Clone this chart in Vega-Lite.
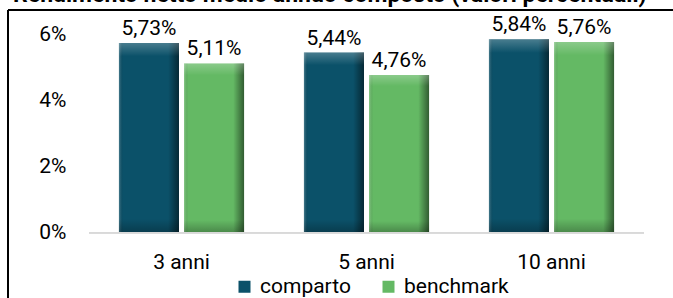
{
  "$schema": "https://vega.github.io/schema/vega-lite/v6.json",
  "width": 665,
  "height": 288,
  "autosize": "none",
  "padding": {"left": 8, "top": 10, "right": 0, "bottom": 0},
  "title": {
    "text": "Rendimento netto medio annuo composto (valori percentuali)",
    "anchor": "start",
    "frame": "group",
    "dx": 5,
    "offset": -16,
    "baseline": "alphabetic",
    "font": "Roboto",
    "fontSize": 23,
    "fontWeight": "bold",
    "color": "black"
  },
  "config": {
    "locale": {"number": {"decimal": ",", "thousands": ".", "grouping": [3], "currency": ["€", ""]}},
    "view": {"stroke": null},
    "font": "Roboto"
  },
  "data": {
    "values": [
      {"periodo": "3 anni", "serie": "comparto", "valore": 0.0573},
      {"periodo": "3 anni", "serie": "benchmark", "valore": 0.0511},
      {"periodo": "5 anni", "serie": "comparto", "valore": 0.0544},
      {"periodo": "5 anni", "serie": "benchmark", "valore": 0.0476},
      {"periodo": "10 anni", "serie": "comparto", "valore": 0.0584},
      {"periodo": "10 anni", "serie": "benchmark", "valore": 0.0576}
    ]
  },
  "resolve": {"scale": {"x": "independent"}, "axis": {"x": "independent"}},
  "layer": [
    {
      "layer": [
        {
          "mark": {"type": "bar", "color": "#d9d9d9"},
          "encoding": {
            "x": {
              "field": "periodo", "type": "nominal", "sort": ["3 anni", "5 anni", "10 anni"],
              "scale": {"range": [81, 636], "paddingInner": 0, "paddingOuter": 0},
              "axis": {"title": null, "ticks": false, "domain": false, "grid": false, "labelPadding": 0, "offset": -47, "labelBaseline": "top", "labelFontSize": 21, "labelColor": "black", "labelAngle": 0, "labelFont": "Roboto"}
            },
            "y": {
              "datum": 0, "type": "quantitative",
              "scale": {"domain": [-0.02, 0.0673], "nice": false, "zero": false},
              "axis": {"title": null, "values": [0, 0.02, 0.04, 0.06], "format": ".0%", "ticks": false, "domain": false, "grid": false, "labelPadding": 0, "offset": -58, "labelFontSize": 21, "labelColor": "black", "labelFont": "Roboto"}
            },
            "y2": {"datum": -0.0005}
          }
        },
        {
          "mark": {"type": "bar"},
          "encoding": {
            "x": {"field": "periodo", "type": "nominal", "sort": ["3 anni", "5 anni", "10 anni"]},
            "xOffset": {"field": "serie", "type": "nominal", "sort": ["comparto", "benchmark"], "scale": {"paddingInner": 0.077, "paddingOuter": 0.46}},
            "y": {"field": "valore", "type": "quantitative"},
            "y2": {"datum": 0},
            "color": {
              "field": "serie", "type": "nominal",
              "scale": {"domain": ["comparto", "benchmark"], "range": ["#0b5169", "#64b964"]},
              "legend": {"title": null, "orient": "none", "legendX": 226, "legendY": 266, "direction": "horizontal", "symbolType": "square", "symbolSize": 144, "symbolStrokeWidth": 0, "labelFontSize": 21, "labelColor": "black", "labelFont": "Roboto", "labelOffset": 5, "columnPadding": 27, "symbolOpacity": 1}
            }
          }
        },
        {
          "mark": {
            "type": "bar",
            "fill": {"gradient": "linear", "x1": 0, "x2": 1, "y1": 0, "y2": 0,
              "stops": [
                {"offset": 0, "color": "rgba(255,255,255,0.25)"},
                {"offset": 0.07, "color": "rgba(0,0,0,0)"},
                {"offset": 0.82, "color": "rgba(0,0,0,0)"},
                {"offset": 1, "color": "rgba(0,0,0,0.5)"}
              ]}
          },
          "encoding": {
            "x": {"field": "periodo", "type": "nominal", "sort": ["3 anni", "5 anni", "10 anni"]},
            "xOffset": {"field": "serie", "type": "nominal", "sort": ["comparto", "benchmark"]},
            "y": {"field": "valore", "type": "quantitative"},
            "y2": {"datum": 0}
          }
        },
        {
          "mark": {
            "type": "bar",
            "fill": {"gradient": "linear", "x1": 0, "x2": 0, "y1": 0, "y2": 1,
              "stops": [
                {"offset": 0, "color": "rgba(255,255,255,0.25)"},
                {"offset": 0.07, "color": "rgba(255,255,255,0)"},
                {"offset": 0.93, "color": "rgba(0,0,0,0)"},
                {"offset": 1, "color": "rgba(0,0,0,0.25)"}
              ]}
          },
          "encoding": {
            "x": {"field": "periodo", "type": "nominal", "sort": ["3 anni", "5 anni", "10 anni"]},
            "xOffset": {"field": "serie", "type": "nominal", "sort": ["comparto", "benchmark"]},
            "y": {"field": "valore", "type": "quantitative"},
            "y2": {"datum": 0}
          }
        },
        {
          "mark": {"type": "text", "dy": -8, "baseline": "alphabetic", "fontSize": 21, "color": "black", "font": "Roboto"},
          "encoding": {
            "x": {"field": "periodo", "type": "nominal", "sort": ["3 anni", "5 anni", "10 anni"]},
            "xOffset": {"field": "serie", "type": "nominal", "sort": ["comparto", "benchmark"]},
            "y": {"field": "valore", "type": "quantitative"},
            "text": {"field": "valore", "type": "quantitative", "format": ".2%"}
          }
        },
        {
          "mark": {"type": "rule", "color": "black", "strokeWidth": 2},
          "encoding": {"y": {"datum": 0.0673}}
        }
      ]
    },
    {
      "mark": {"type": "rule", "color": "black", "strokeWidth": 2},
      "encoding": {
        "x": {"datum": 0, "type": "quantitative", "scale": {"domain": [0, 1]}, "axis": null}
      }
    }
  ]
}
